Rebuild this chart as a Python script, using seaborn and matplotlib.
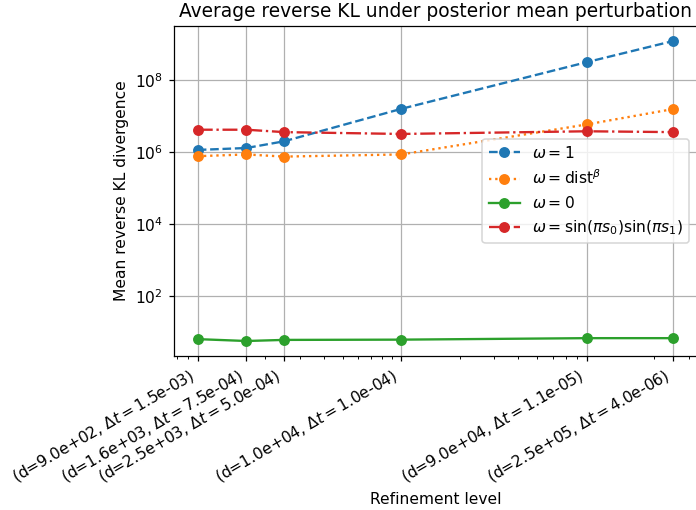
import matplotlib
matplotlib.use("Agg")
import matplotlib.pyplot as plt
import seaborn as sns
import pandas as pd
from matplotlib.ticker import NullFormatter, NullLocator, FixedLocator

# Refinement levels: number of unknowns and time step
dims = [900, 1600, 2500, 10000, 90000, 250000]
dts = [1.5e-3, 7.5e-4, 5.0e-4, 1.0e-4, 1.1e-5, 4.0e-6]

# Mean reverse KL divergence for each perturbation weight
kl_one = [1.15e6, 1.3e6, 2.0e6, 1.6e7, 3.2e8, 1.24e9]
kl_dist = [7.7e5, 8.6e5, 7.5e5, 8.6e5, 5.9e6, 1.58e7]
kl_zero = [6.2, 5.5, 5.9, 6.0, 6.6, 6.6]
kl_sin = [4.2e6, 4.2e6, 3.6e6, 3.2e6, 3.8e6, 3.6e6]

series = [
    (r"$\omega = 1$", kl_one, "#1f77b4", "--"),
    (r"$\omega = \mathrm{dist}^{\beta}$", kl_dist, "#ff7f0e", ":"),
    (r"$\omega = 0$", kl_zero, "#2ca02c", "-"),
    (r"$\omega = \sin(\pi s_0)\sin(\pi s_1)$", kl_sin, "#d62728", "-."),
]

tick_labels = [f"(d={d:.1e}, $\\Delta t=${dt:.1e})" for d, dt in zip(dims, dts)]

dpi = 112
fig = plt.figure(figsize=(696 / dpi, 510 / dpi), dpi=dpi)
ax = fig.add_axes([174 / 696, 154 / 510, 523 / 696, 330 / 510])

for label, vals, color, ls in series:
    df = pd.DataFrame({"d": dims, "kl": vals})
    sns.lineplot(data=df, x="d", y="kl", ax=ax, label=label, color=color,
                 linestyle=ls, marker="o", markersize=6,
                 markeredgecolor=color, markeredgewidth=1.0,
                 estimator=None, sort=False)

ax.set_xscale("log")
ax.set_yscale("log")
ax.set_xticks(dims)
ax.set_xticklabels(tick_labels, rotation=30, ha="right")
ax.xaxis.set_minor_formatter(NullFormatter())
ax.yaxis.set_major_locator(FixedLocator([1e2, 1e4, 1e6, 1e8]))
ax.yaxis.set_minor_locator(NullLocator())
ax.grid(True, which="major")
ax.set_xlabel("Refinement level")
ax.set_ylabel("Mean reverse KL divergence")
ax.set_title("Average reverse KL under posterior mean perturbation")
ax.legend(loc="center right")

fig.savefig("out.png", dpi=dpi)
